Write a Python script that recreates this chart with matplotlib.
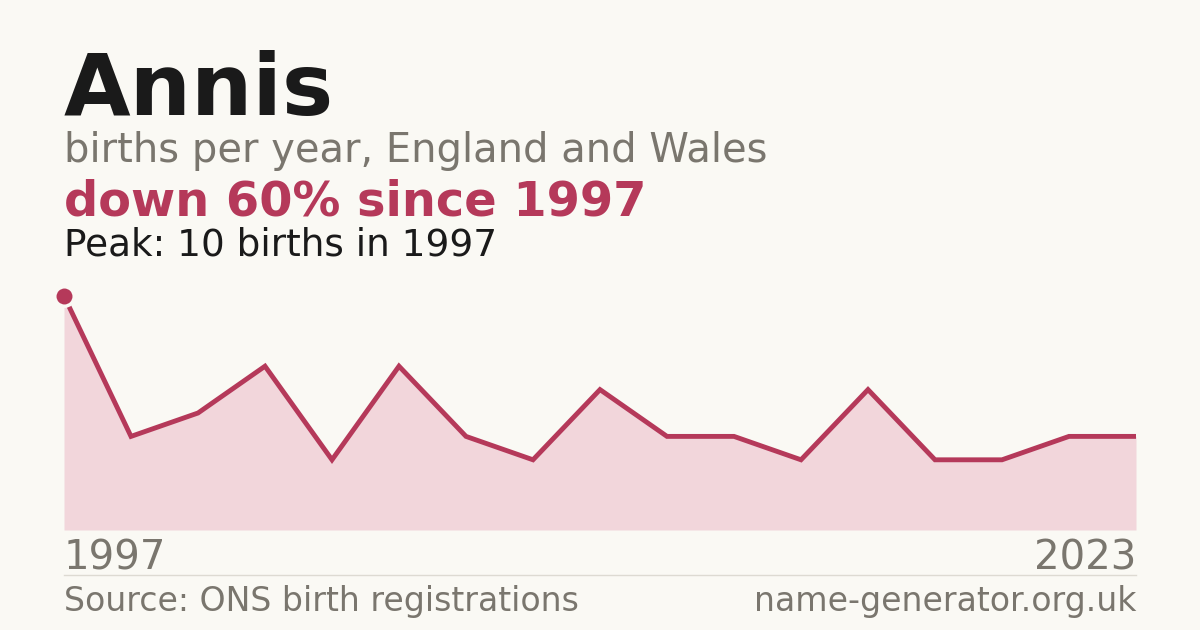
import numpy as np
import matplotlib
matplotlib.use("Agg")
import matplotlib.pyplot as plt

BG = "#faf9f4"
ACCENT = "#b5395a"
FILL = "#f2d6db"
GREY = "#7a766e"
INK = "#1a1a1a"

# births per year (only years shown in the series, evenly spaced)
births = [10, 4, 5, 7, 3, 7, 4, 3, 6, 4, 4, 3, 6, 3, 3, 4, 4]
first_year = "1997"
last_year = "2023"

W, H = 1200, 630
fig = plt.figure(figsize=(W / 100, H / 100), dpi=100)
fig.patch.set_facecolor(BG)

def fx(px):
    return px / W

def fy(py):
    return 1 - py / H

# chart area: x 64..1136, y 530 (0) .. 296 (peak)
ax = fig.add_axes([fx(64), fy(530), fx(1136 - 64), (530 - 296) / H])
ax.set_facecolor(BG)
x = np.arange(len(births))
ax.fill_between(x, births, 0, color=FILL, lw=0)
ax.plot(x, births, color=ACCENT, lw=3.5, solid_joinstyle="miter",
        solid_capstyle="butt", clip_on=False)
peak = int(np.argmax(births))
ax.plot(x[peak], births[peak], "o", ms=14, color=ACCENT, mec=BG, mew=2.5,
        clip_on=False, zorder=5)
ax.set_xlim(0, len(births) - 1)
ax.set_ylim(0, max(births))
ax.axis("off")

# headings
fig.text(fx(64), fy(115), "Annis", fontsize=62, fontweight="bold", color=INK, va="baseline")
fig.text(fx(64), fy(162), "births per year, England and Wales", fontsize=28.8, color=GREY, va="baseline")
fig.text(fx(64), fy(215), "down 60% since 1997", fontsize=34.5, fontweight="bold", color=ACCENT, va="baseline")
fig.text(fx(64), fy(255), f"Peak: {max(births)} births in {first_year}", fontsize=26.9, color=INK, va="baseline")

# axis end labels
fig.text(fx(64), fy(570), first_year, fontsize=29, color=GREY, va="baseline")
fig.text(fx(1136), fy(570), last_year, fontsize=29, color=GREY, va="baseline", ha="right")

# separator and footer
fig.add_artist(plt.Line2D([fx(64), fx(1136)], [fy(575), fy(575)], color="#dddad2", lw=1))
fig.text(fx(64), fy(611), "Source: ONS birth registrations", fontsize=23.9, color=GREY, va="baseline")
fig.text(fx(1136), fy(611), "name-generator.org.uk", fontsize=23.9, color=GREY, va="baseline", ha="right")

fig.savefig("out.png", dpi=100, facecolor=BG)
